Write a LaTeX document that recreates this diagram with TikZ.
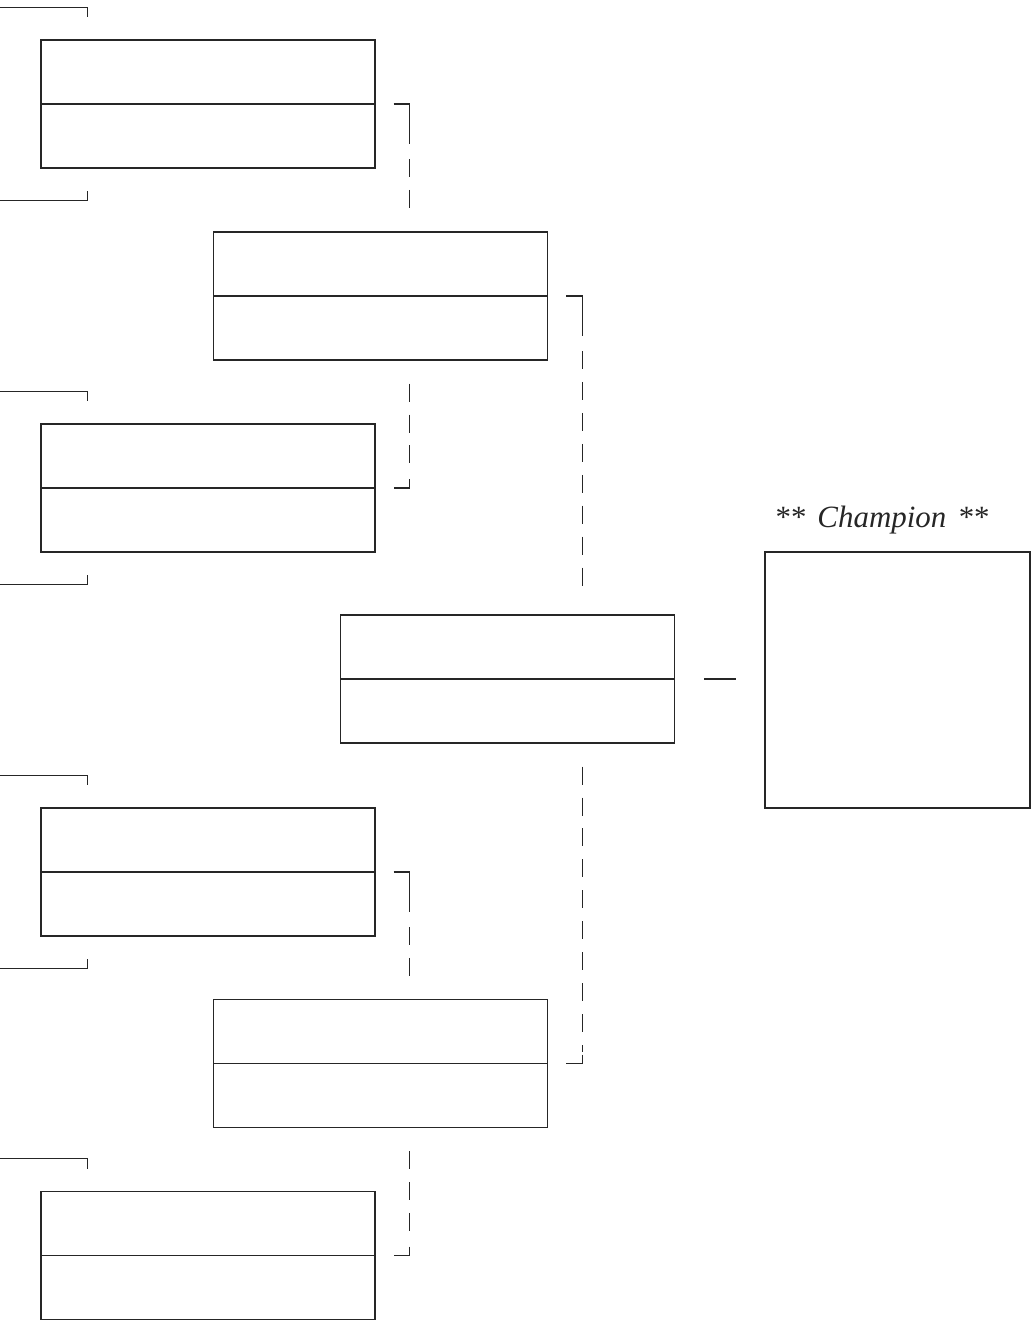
\documentclass[tikz,border=0pt]{standalone}
\usepackage{fontspec}
\setmainfont{Liberation Serif}
\usetikzlibrary{positioning, calc}

\begin{document}
\begin{tikzpicture}[
    x=0.025cm, y=-0.025cm,
    color=black!85, line width=0.8pt,
    slot/.style={draw, minimum width=8.35cm, minimum height=3.2cm, inner sep=0pt,
        path picture={\draw (path picture bounding box.west) -- (path picture bounding box.east);}},
    champbox/.style={draw, minimum width=6.625cm, minimum height=6.4cm, inner sep=0pt},
    tie/.style={dash pattern=on 12.8pt off 9.2pt},
]
    \useasboundingbox (0,0) rectangle (1032,1323);

    % first round
    \node[slot] (a1) at (208,104)  {};
    \node[slot] (a2) at (208,488)  {};
    \node[slot] (a3) at (208,872)  {};
    \node[slot] (a4) at (208,1255.5) {};

    % second round
    \node[slot] (b1) at (380.5,296)  {};
    \node[slot] (b2) at (380.5,1063.5) {};

    % final
    \node[slot] (c1) at (507.5,679) {};

    \node[champbox] (champ) at (897.5,680) {};
    \node[above=0.42cm of champ, xshift=-0.37cm, inner sep=0pt, font=\fontsize{22}{26}\selectfont] (title) {**\hspace{0.35em}\textit{Champion}\hspace{0.4em}**};

    % lines coming in from the left
    \draw ($(a1.north west)+(-41,-32)$) -| ($(a1.north west)+(47,-22)$);
    \draw ($(a1.south west)+(-41,32)$)  -| ($(a1.south west)+(47,22)$);
    \draw ($(a2.north west)+(-41,-32)$) -| ($(a2.north west)+(47,-22)$);
    \draw ($(a2.south west)+(-41,32)$)  -| ($(a2.south west)+(47,22)$);
    \draw ($(a3.north west)+(-41,-32)$) -| ($(a3.north west)+(47,-22)$);
    \draw ($(a3.south west)+(-41,32)$)  -| ($(a3.south west)+(47,22)$);
    \draw ($(a4.north west)+(-41,-32)$) -| ($(a4.north west)+(47,-22)$);

    % corners of the brackets
    \coordinate (u1) at ($(a1.east)+(34,0)$);
    \coordinate (l1) at ($(a2.east)+(34,0)$);
    \coordinate (u2) at ($(a3.east)+(34,0)$);
    \coordinate (l2) at ($(a4.east)+(34,0)$);
    \coordinate (u3) at ($(b1.east)+(34,0)$);
    \coordinate (l3) at ($(b2.east)+(34,0)$);

    % a1 / a2 into b1
    \draw ($(a1.east)+(18,0)$) -- (u1) -- ++(0,40);
    \draw[tie] ($(u1)+(0,55)$) -- ($(u1 |- b1.north)+(0,-22)$);
    \draw[tie] ($(l1 |- b1.south)+(0,23)$) -- ($(l1)+(0,-12)$);
    \draw ($(l1)+(0,-9)$) -- (l1) -- ($(a2.east)+(18,0)$);

    % a3 / a4 into b2
    \draw ($(a3.east)+(18,0)$) -- (u2) -- ++(0,40);
    \draw[tie] ($(u2)+(0,55)$) -- ($(u2 |- b2.north)+(0,-22)$);
    \draw[tie] ($(l2 |- b2.south)+(0,23)$) -- ($(l2)+(0,-12)$);
    \draw ($(l2)+(0,-9)$) -- (l2) -- ($(a4.east)+(18,0)$);

    % b1 / b2 into c1
    \draw ($(b1.east)+(18,0)$) -- (u3) -- ++(0,40);
    \draw[tie] ($(u3)+(0,55)$) -- ($(u3 |- c1.north)+(0,-22)$);
    \draw[tie] ($(l3 |- c1.south)+(0,23)$) -- ($(l3)+(0,-12)$);
    \draw ($(l3)+(0,-9)$) -- (l3) -- ($(b2.east)+(18,0)$);

    % c1 to the champion
    \draw ($(c1.east)+(29,0)$) -- ($(c1.east -| champ.west)+(-28,0)$);

\end{tikzpicture}
\end{document}
